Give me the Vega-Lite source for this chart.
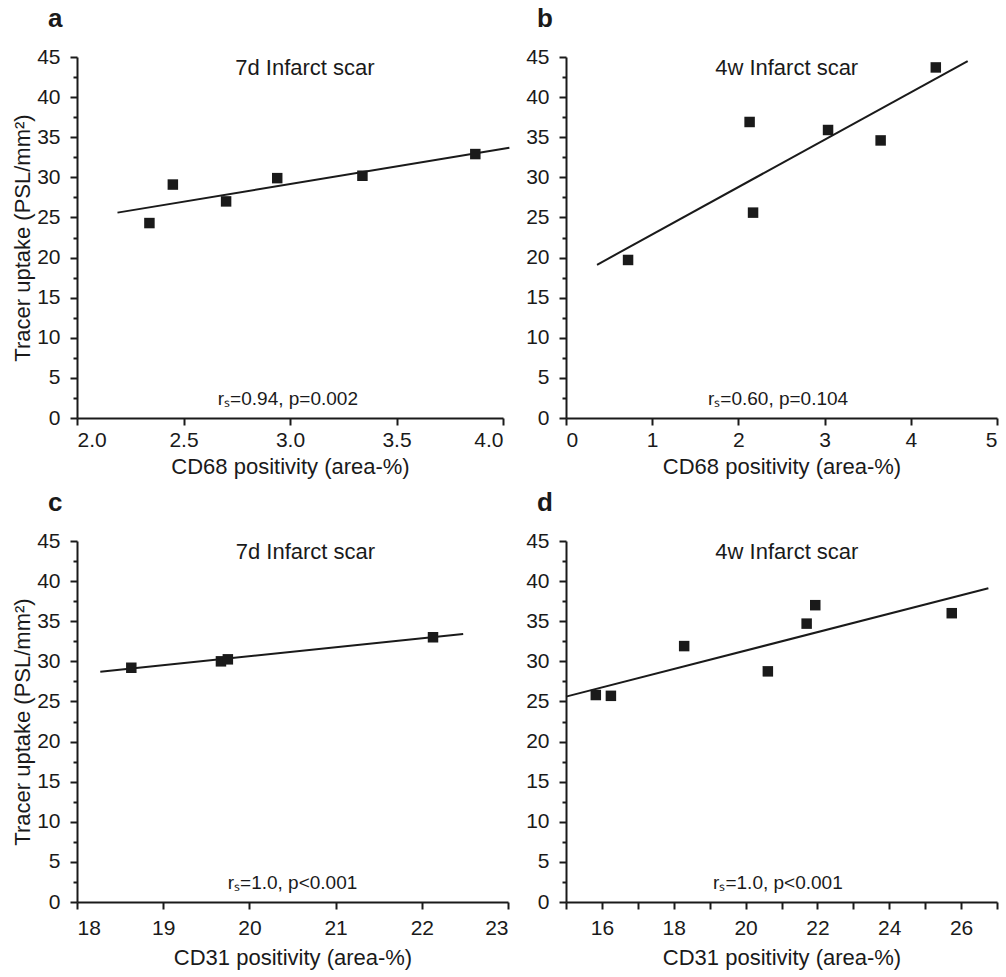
{
  "$schema": "https://vega.github.io/schema/vega-lite/v6.json",
  "background": "white",
  "padding": {"left": 11, "top": 6, "right": 5, "bottom": 5},
  "config": {
    "font": "Liberation Sans",
    "view": {"stroke": null},
    "axis": {
      "grid": false,
      "domainColor": "#1a1a1a",
      "domainWidth": 2,
      "tickColor": "#1a1a1a",
      "tickWidth": 2,
      "tickSize": 7,
      "tickCount": 100,
      "labelFont": "Liberation Sans",
      "labelFontSize": 21,
      "labelColor": "#1a1a1a",
      "labelPadding": 4,
      "labelOverlap": false,
      "titleFont": "Liberation Sans",
      "titleFontSize": 22,
      "titleFontWeight": "normal",
      "titleColor": "#1a1a1a"
    },
    "axisY": {"labelPadding": 10, "titlePadding": 2},
    "axisX": {"titlePadding": 6},
    "title": {"font": "Liberation Sans", "fontSize": 26, "fontWeight": "bold", "color": "#1a1a1a", "anchor": "start", "frame": "group", "dx": -29, "offset": 14}
  },
  "datasets": {
    "pts": [
      {"panel": "a", "positivity": 2.34, "uptake": 24.3},
      {"panel": "a", "positivity": 2.45, "uptake": 29.1},
      {"panel": "a", "positivity": 2.70, "uptake": 27.0},
      {"panel": "a", "positivity": 2.94, "uptake": 29.9},
      {"panel": "a", "positivity": 3.34, "uptake": 30.2},
      {"panel": "a", "positivity": 3.87, "uptake": 32.9},
      {"panel": "b", "positivity": 0.72, "uptake": 19.7},
      {"panel": "b", "positivity": 2.13, "uptake": 36.9},
      {"panel": "b", "positivity": 2.17, "uptake": 25.6},
      {"panel": "b", "positivity": 3.04, "uptake": 35.9},
      {"panel": "b", "positivity": 3.65, "uptake": 34.6},
      {"panel": "b", "positivity": 4.29, "uptake": 43.7},
      {"panel": "c", "positivity": 18.63, "uptake": 29.2},
      {"panel": "c", "positivity": 19.67, "uptake": 30.0},
      {"panel": "c", "positivity": 19.75, "uptake": 30.25},
      {"panel": "c", "positivity": 22.13, "uptake": 33.0},
      {"panel": "d", "positivity": 15.83, "uptake": 25.8},
      {"panel": "d", "positivity": 16.25, "uptake": 25.7},
      {"panel": "d", "positivity": 18.29, "uptake": 31.9},
      {"panel": "d", "positivity": 20.62, "uptake": 28.75},
      {"panel": "d", "positivity": 21.70, "uptake": 34.7},
      {"panel": "d", "positivity": 21.94, "uptake": 37.0},
      {"panel": "d", "positivity": 25.74, "uptake": 36.0}
    ],
    "fit": [
      {"panel": "a", "positivity": 2.19, "uptake": 25.6},
      {"panel": "a", "positivity": 4.03, "uptake": 33.7},
      {"panel": "b", "positivity": 0.36, "uptake": 19.1},
      {"panel": "b", "positivity": 4.66, "uptake": 44.5},
      {"panel": "c", "positivity": 18.27, "uptake": 28.7},
      {"panel": "c", "positivity": 22.48, "uptake": 33.4},
      {"panel": "d", "positivity": 15.0, "uptake": 25.6},
      {"panel": "d", "positivity": 26.76, "uptake": 39.1}
    ]
  },
  "columns": 2,
  "spacing": {"row": 123, "column": 58},
  "bounds": "flush",
  "concat": [
    {
      "title": "a",
      "width": 426,
      "height": 361,
      "layer": [
        {
          "data": {"name": "fit"},
          "transform": [{"filter": "datum.panel === 'a'"}],
          "mark": {"type": "line", "color": "#1a1a1a", "strokeWidth": 2},
          "encoding": {
            "x": {"field": "positivity", "type": "quantitative", "scale": {"domain": [2, 4], "nice": false, "zero": false},
              "axis": {"title": "CD68 positivity (area-%)", "values": [2, 2.5, 3, 3.5, 4], "format": ".1f"}},
            "y": {"field": "uptake", "type": "quantitative", "scale": {"domain": [0, 45], "nice": false},
              "axis": {"title": "Tracer uptake (PSL/mm²)", "values": [0, 2.5, 5, 7.5, 10, 12.5, 15, 17.5, 20, 22.5, 25, 27.5, 30, 32.5, 35, 37.5, 40, 42.5, 45], "format": "d",
                "labelExpr": "datum.value % 5 === 0 ? datum.label : ''", "tickSize": {"condition": {"test": "datum.value % 5 === 0", "value": 7}, "value": 4}}}
          }
        },
        {
          "data": {"name": "pts"},
          "transform": [{"filter": "datum.panel === 'a'"}],
          "mark": {"type": "square", "color": "#1a1a1a", "filled": true, "opacity": 1, "size": 110},
          "encoding": {
            "x": {"field": "positivity", "type": "quantitative"},
            "y": {"field": "uptake", "type": "quantitative"}
          }
        },
        {
          "data": {"values": [{"label": "7d Infarct scar"}]},
          "mark": {"type": "text", "fontSize": 22, "color": "#1a1a1a", "align": "center", "baseline": "alphabetic"},
          "encoding": {"x": {"datum": 3.07}, "y": {"datum": 42.8}, "text": {"field": "label"}}
        },
        {
          "data": {"values": [{"label": "rₛ=0.94, p=0.002"}]},
          "mark": {"type": "text", "fontSize": 19, "color": "#1a1a1a", "align": "center", "baseline": "alphabetic"},
          "encoding": {"x": {"datum": 2.99}, "y": {"datum": 1.6}, "text": {"field": "label"}}
        }
      ]
    },
    {
      "title": "b",
      "width": 431,
      "height": 361,
      "layer": [
        {
          "data": {"name": "fit"},
          "transform": [{"filter": "datum.panel === 'b'"}],
          "mark": {"type": "line", "color": "#1a1a1a", "strokeWidth": 2},
          "encoding": {
            "x": {"field": "positivity", "type": "quantitative", "scale": {"domain": [0, 5], "nice": false},
              "axis": {"title": "CD68 positivity (area-%)", "values": [0, 1, 2, 3, 4, 5], "format": "d"}},
            "y": {"field": "uptake", "type": "quantitative", "scale": {"domain": [0, 45], "nice": false},
              "axis": {"title": null, "values": [0, 2.5, 5, 7.5, 10, 12.5, 15, 17.5, 20, 22.5, 25, 27.5, 30, 32.5, 35, 37.5, 40, 42.5, 45], "format": "d",
                "labelExpr": "datum.value % 5 === 0 ? datum.label : ''", "tickSize": {"condition": {"test": "datum.value % 5 === 0", "value": 7}, "value": 4}}}
          }
        },
        {
          "data": {"name": "pts"},
          "transform": [{"filter": "datum.panel === 'b'"}],
          "mark": {"type": "square", "color": "#1a1a1a", "filled": true, "opacity": 1, "size": 110},
          "encoding": {
            "x": {"field": "positivity", "type": "quantitative"},
            "y": {"field": "uptake", "type": "quantitative"}
          }
        },
        {
          "data": {"values": [{"label": "4w Infarct scar"}]},
          "mark": {"type": "text", "fontSize": 22, "color": "#1a1a1a", "align": "center", "baseline": "alphabetic"},
          "encoding": {"x": {"datum": 2.56}, "y": {"datum": 42.8}, "text": {"field": "label"}}
        },
        {
          "data": {"values": [{"label": "rₛ=0.60, p=0.104"}]},
          "mark": {"type": "text", "fontSize": 19, "color": "#1a1a1a", "align": "center", "baseline": "alphabetic"},
          "encoding": {"x": {"datum": 2.46}, "y": {"datum": 1.6}, "text": {"field": "label"}}
        }
      ]
    },
    {
      "title": "c",
      "width": 431,
      "height": 361,
      "layer": [
        {
          "data": {"name": "fit"},
          "transform": [{"filter": "datum.panel === 'c'"}],
          "mark": {"type": "line", "color": "#1a1a1a", "strokeWidth": 2},
          "encoding": {
            "x": {"field": "positivity", "type": "quantitative", "scale": {"domain": [18, 23], "nice": false, "zero": false},
              "axis": {"title": "CD31 positivity (area-%)", "values": [18, 19, 20, 21, 22, 23], "format": "d", "labelPadding": 8, "titlePadding": 9}},
            "y": {"field": "uptake", "type": "quantitative", "scale": {"domain": [0, 45], "nice": false},
              "axis": {"title": "Tracer uptake (PSL/mm²)", "values": [0, 2.5, 5, 7.5, 10, 12.5, 15, 17.5, 20, 22.5, 25, 27.5, 30, 32.5, 35, 37.5, 40, 42.5, 45], "format": "d",
                "labelExpr": "datum.value % 5 === 0 ? datum.label : ''", "tickSize": {"condition": {"test": "datum.value % 5 === 0", "value": 7}, "value": 4}}}
          }
        },
        {
          "data": {"name": "pts"},
          "transform": [{"filter": "datum.panel === 'c'"}],
          "mark": {"type": "square", "color": "#1a1a1a", "filled": true, "opacity": 1, "size": 110},
          "encoding": {
            "x": {"field": "positivity", "type": "quantitative"},
            "y": {"field": "uptake", "type": "quantitative"}
          }
        },
        {
          "data": {"values": [{"label": "7d Infarct scar"}]},
          "mark": {"type": "text", "fontSize": 22, "color": "#1a1a1a", "align": "center", "baseline": "alphabetic"},
          "encoding": {"x": {"datum": 20.65}, "y": {"datum": 42.75}, "text": {"field": "label"}}
        },
        {
          "data": {"values": [{"label": "rₛ=1.0, p<0.001"}]},
          "mark": {"type": "text", "fontSize": 19, "color": "#1a1a1a", "align": "center", "baseline": "alphabetic"},
          "encoding": {"x": {"datum": 20.5}, "y": {"datum": 1.6}, "text": {"field": "label"}}
        }
      ]
    },
    {
      "title": "d",
      "width": 431,
      "height": 361,
      "layer": [
        {
          "data": {"name": "fit"},
          "transform": [{"filter": "datum.panel === 'd'"}],
          "mark": {"type": "line", "color": "#1a1a1a", "strokeWidth": 2},
          "encoding": {
            "x": {"field": "positivity", "type": "quantitative", "scale": {"domain": [15, 27], "nice": false, "zero": false},
              "axis": {"title": "CD31 positivity (area-%)", "values": [15, 16, 17, 18, 19, 20, 21, 22, 23, 24, 25, 26, 27], "format": "d", "labelPadding": 8, "titlePadding": 9,
                "labelExpr": "datum.value % 2 === 0 ? datum.label : ''"}},
            "y": {"field": "uptake", "type": "quantitative", "scale": {"domain": [0, 45], "nice": false},
              "axis": {"title": null, "values": [0, 2.5, 5, 7.5, 10, 12.5, 15, 17.5, 20, 22.5, 25, 27.5, 30, 32.5, 35, 37.5, 40, 42.5, 45], "format": "d",
                "labelExpr": "datum.value % 5 === 0 ? datum.label : ''", "tickSize": {"condition": {"test": "datum.value % 5 === 0", "value": 7}, "value": 4}}}
          }
        },
        {
          "data": {"name": "pts"},
          "transform": [{"filter": "datum.panel === 'd'"}],
          "mark": {"type": "square", "color": "#1a1a1a", "filled": true, "opacity": 1, "size": 110},
          "encoding": {
            "x": {"field": "positivity", "type": "quantitative"},
            "y": {"field": "uptake", "type": "quantitative"}
          }
        },
        {
          "data": {"values": [{"label": "4w Infarct scar"}]},
          "mark": {"type": "text", "fontSize": 22, "color": "#1a1a1a", "align": "center", "baseline": "alphabetic"},
          "encoding": {"x": {"datum": 21.15}, "y": {"datum": 42.75}, "text": {"field": "label"}}
        },
        {
          "data": {"values": [{"label": "rₛ=1.0, p<0.001"}]},
          "mark": {"type": "text", "fontSize": 19, "color": "#1a1a1a", "align": "center", "baseline": "alphabetic"},
          "encoding": {"x": {"datum": 20.9}, "y": {"datum": 1.6}, "text": {"field": "label"}}
        }
      ]
    }
  ]
}
